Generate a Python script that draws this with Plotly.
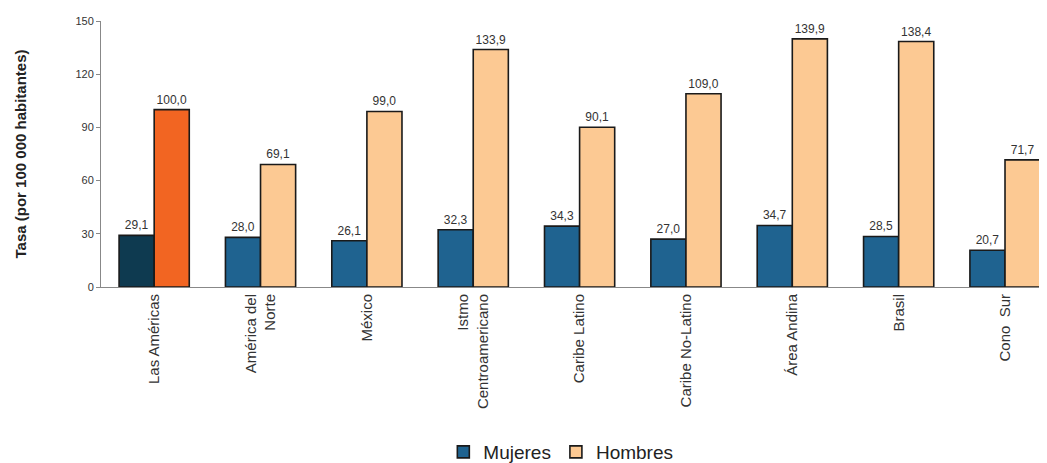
import plotly.graph_objects as go

categories = ["Las Américas", "América del<br>Norte", "México", "Istmo<br>Centroamericano",
              "Caribe Latino", "Caribe No-Latino", "Área Andina", "Brasil", "Cono  Sur"]
mujeres = [29.1, 28.0, 26.1, 32.3, 34.3, 27.0, 34.7, 28.5, 20.7]
hombres = [100.0, 69.1, 99.0, 133.9, 90.1, 109.0, 139.9, 138.4, 71.7]
y_ticks = [0, 30, 60, 90, 120, 150]

def fmt(v):
    return f"{v:.1f}".replace(".", ",")

x_idx = list(range(len(categories)))
boundaries = [i + 0.5 for i in range(-1, len(categories))]
txtfont = dict(family="Liberation Sans, Arial, sans-serif", size=12, color="#333333")
line = dict(color="#1a1a1a", width=1.6)

fig = go.Figure()
fig.add_trace(go.Bar(x=x_idx[:1], y=mujeres[:1], offsetgroup="m", showlegend=False,
                     marker=dict(color="#0e3a50", line=line),
                     text=[fmt(v) for v in mujeres[:1]], textposition="outside",
                     textfont=txtfont, cliponaxis=False, hoverinfo="skip"))
fig.add_trace(go.Bar(x=x_idx[:1], y=hombres[:1], offsetgroup="h", showlegend=False,
                     marker=dict(color="#f26522", line=line),
                     text=[fmt(v) for v in hombres[:1]], textposition="outside",
                     textfont=txtfont, cliponaxis=False, hoverinfo="skip"))
fig.add_trace(go.Bar(x=x_idx[1:], y=mujeres[1:], offsetgroup="m", name="Mujeres",
                     marker=dict(color="#1f6390", line=line),
                     text=[fmt(v) for v in mujeres[1:]], textposition="outside",
                     textfont=txtfont, cliponaxis=False))
fig.add_trace(go.Bar(x=x_idx[1:], y=hombres[1:], offsetgroup="h", name="Hombres",
                     marker=dict(color="#fcc993", line=line),
                     text=[fmt(v) for v in hombres[1:]], textposition="outside",
                     textfont=txtfont, cliponaxis=False))

fig.update_layout(
    width=1047, height=463,
    margin=dict(l=93, r=0, t=13, b=184),
    paper_bgcolor="white", plot_bgcolor="white",
    barmode="group", bargap=0.34, bargroupgap=0,
    font=dict(family="Liberation Sans, Arial, sans-serif", color="#333333"),
    xaxis=dict(tickmode="array", tickvals=x_idx, ticktext=categories, tickangle=-90,
               range=[-0.5, 8.47], showline=True, linecolor="#888888", linewidth=1,
               ticks="", tickfont=dict(size=15, color="#333333"), showgrid=False,
               zeroline=False),
    xaxis2=dict(overlaying="x", matches="x", tickmode="array", tickvals=boundaries,
                ticks="outside", ticklen=3, tickcolor="#999999", showticklabels=False,
                showline=False, showgrid=False, zeroline=False, side="bottom"),
    yaxis=dict(range=[0, 150], tickvals=y_ticks, ticktext=[str(t) for t in y_ticks],
               showline=True, linecolor="#888888", linewidth=1, ticks="outside",
               ticklen=4, tickcolor="#888888", tickfont=dict(size=11, color="#333333"),
               showgrid=False, zeroline=False,
               title=dict(text="<b>Tasa (por 100 000 habitantes)</b>",
                          font=dict(size=15, color="#222222"), standoff=45)),
    legend=dict(orientation="h", x=0.482, xanchor="center", y=2, yanchor="bottom",
                yref="container", font=dict(size=19, color="#222222"),
                itemwidth=30, tracegroupgap=0),
    showlegend=True,
)

fig.write_html("out.html")
